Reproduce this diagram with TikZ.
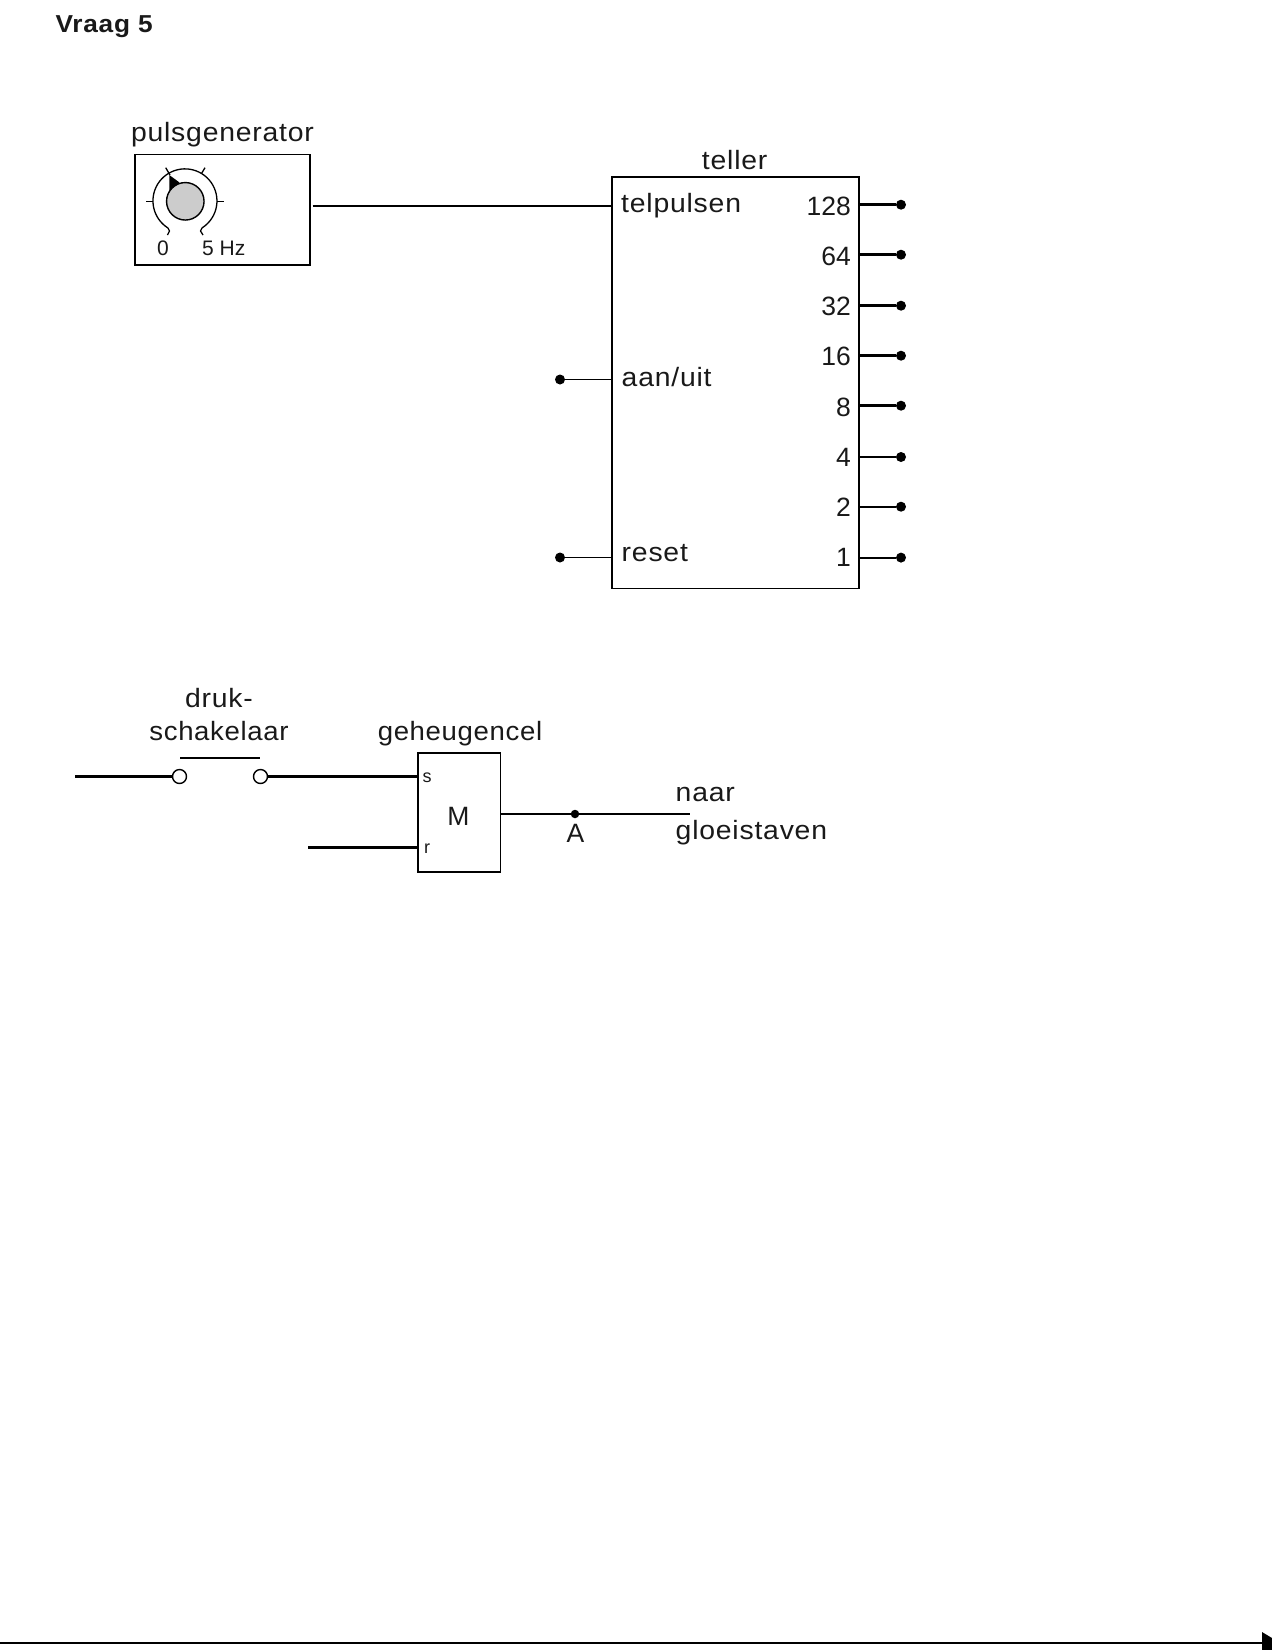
\documentclass[tikz,border=0pt]{standalone}
\usepackage{fontspec}
\setmainfont[FakeStretch=1.07,LetterSpace=3]{Liberation Sans}
\newfontfamily\plainfont{Liberation Sans}
\newfontfamily\tightfont[FakeStretch=1.04,LetterSpace=2.5]{Liberation Sans}
\begin{document}
\begin{tikzpicture}[x=1pt,y=-1pt,
  lbl/.style={font=\fontsize{26.5}{30}\selectfont,inner sep=0pt,text=black!90},
  lw/.style={lbl,anchor=base west},
  lc/.style={lbl,anchor=base},
  lt/.style={lbl,font=\tightfont\fontsize{26.5}{30}\selectfont,anchor=base},
  le/.style={lbl,font=\plainfont\fontsize{26.5}{30}\selectfont,anchor=base east},
  sm/.style={inner sep=0pt,font=\plainfont\fontsize{21}{24}\selectfont,text=black!90},
  tiny/.style={inner sep=0pt,font=\plainfont\fontsize{18}{20}\selectfont,anchor=base,text=black!90},
  boxn/.style={draw,line width=1.6pt,inner sep=0pt,minimum width=#1},
  termdot/.style={circle,fill=black,inner sep=0pt,minimum size=10pt},
  termring/.style={circle,draw,fill=white,line width=1.4pt,inner sep=0pt,minimum size=14pt},
  wire/.style={line width=1.8pt},
  thick wire/.style={line width=2.8pt},
  gauge/.style={line width=1.3pt}]
\useasboundingbox (0,0) rectangle (1272,1650);
\node[lbl,font=\fontsize{24.5}{28}\selectfont\bfseries,anchor=base west] (title) at (55.5,32) {Vraag 5};

% pulse generator
\node[boxn=175.5pt,minimum height=110.5pt] (pg) at (222.5,209.7) {};
\node[lc] (pgl) at (222.5,141) {pulsgenerator};
\node[circle,draw,fill=black!20,line width=1.4pt,inner sep=0pt,minimum size=37.5pt] (knob) at (185.3,201.3) {};
\fill (169.3,175) -- (179.5,182.5) -- (169.3,190.5) -- cycle;
\draw[gauge] (168,228) arc[start angle=122,end angle=418,radius=32];
\draw[gauge] (168,228) -- (169.5,231) -- (167.5,235);
\draw[gauge] (202,228) -- (200.5,231) -- (203,235);
\draw[gauge] (146,201.3) -- (153.3,201.3);
\draw[gauge] (217.3,201.3) -- (224,201.3);
\draw[gauge] (165.7,167.7) -- (170,175);
\draw[gauge] (205,167.7) -- (201.5,173.5);
\node[sm,anchor=base] (z) at (163,255) {0};
\node[sm,anchor=base west] (hz) at (202,255) {5 Hz};

% teller
\node[boxn=247pt,minimum height=411.5pt] (teller) at (735.2,382.7) {};
\node[lc] (tl) at (734.7,169.5) {teller};
\node[lw] at (621,212.5) {telpulsen};
\node[lw] at (621.5,386) {aan/uit};
\node[lw] at (621.5,561) {reset};
\coordinate (pgout) at (312.5,205.7);
\draw[wire] (pgout) -- (pgout -| teller.west);

\node[termdot] (ain) at (560,379.5) {};
\node[termdot] (rin) at (560,557.5) {};
\draw[wire] (ain) -- (ain -| teller.west);
\draw[wire] (rin) -- (rin -| teller.west);

\foreach \lab/\nm/\yy/\bl/\lwv in {128/a/204.7/215.5/2.6pt,64/b/254.7/265/2.6pt,32/c/305.7/315.5/2.6pt,16/d/355.7/365.5/2.6pt,8/e/405.7/416.5/2.6pt,4/f/457/466.5/1.6pt,2/g/506.7/516.5/2.4pt,1/h/557.6/566.5/1.8pt}{
  \node[termdot] (o\nm) at (901,\yy) {};
  \node[le] at (851,\bl) {\lab};
  \draw[line width=\lwv] (o\nm) -- (o\nm -| teller.east);
}

% push switch and memory cell
\node[lc] at (219,707) {druk-};
\node[lt] at (219,740) {schakelaar};
\node[lt] at (460,740) {geheugencel};
\node[boxn=82.5pt,minimum height=119.5pt] (mem) at (459.3,812.5) {};
\node[tiny,font=\plainfont\fontsize{26.5}{30}\selectfont] (m) at (458.5,825.5) {M};
\node[tiny] at (427,782.5) {s};
\node[tiny] at (427,853) {r};
\node[termring] (sw1) at (179.5,776.5) {};
\node[termring] (sw2) at (260.5,776.5) {};
\coordinate (inl) at (75,776.5);
\coordinate (rl) at (308.3,847.3);
\draw[thick wire] (inl) -- (sw1);
\draw[line width=2.3pt] (sw2) -- (sw2 -| mem.west);
\draw[thick wire] (rl) -- (rl -| mem.west);
\coordinate (barl) at (180,758);
\coordinate (barr) at (259.5,758);
\draw[line width=1.8pt] (barl) -- (barr);
\coordinate (outr) at (690,814);
\node[termdot,minimum size=8.5pt] (adot) at (575,814) {};
\draw[wire] (adot -| mem.east) -- (outr);
\node[tiny,font=\plainfont\fontsize{26.5}{30}\selectfont] at (575.5,842.5) {A};
\node[lw] at (675.5,801) {naar};
\node[lw] at (675.5,839.5) {gloeistaven};

% page rule
\coordinate (rule0) at (0,1643);
\coordinate (rule1) at (1262,1643);
\draw[line width=1.8pt] (rule0) -- (rule1);
\fill (1262,1632) -- (1272,1638) -- (1272,1650) -- (1262,1650) -- cycle;
\end{tikzpicture}
\end{document}
